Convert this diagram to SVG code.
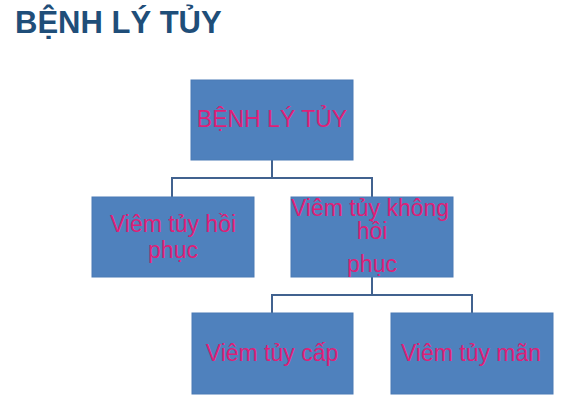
<svg xmlns="http://www.w3.org/2000/svg" width="568" height="406" viewBox="0 0 568 406">
<style>
.box{fill:#4F81BD;stroke:#4A7AB5;stroke-width:1}
.lbl{font-family:"Liberation Sans",Arial,sans-serif;font-size:23px;fill:#DE1F77;text-anchor:middle}
.conn{fill:none;stroke:#41628F;stroke-width:2}
.title{font-family:"Liberation Sans",Arial,sans-serif;font-size:31px;font-weight:bold;fill:#1F4E79}
</style>
<rect width="568" height="406" fill="#FFFFFF"/>
<text class="title" x="15" y="33">BỆNH LÝ TỦY</text>
<g id="connectors">
<path class="conn" d="M272 160 V178 M172 178 H372 M172 177 V197 M372 177 V197"/>
<path class="conn" d="M372 277 V295 M272 295 H472 M272 294 V313 M472 294 V313"/>
</g>
<g id="node-root">
<rect class="box" x="191" y="80" width="162" height="80"/>
<text class="lbl" x="272" y="127">BỆNH LÝ TỦY</text>
</g>
<g id="node-reversible">
<rect class="box" x="92" y="197" width="162" height="80"/>
<text class="lbl" x="173" y="232">Viêm tủy hồi</text>
<text class="lbl" x="173" y="258">phục</text>
</g>
<g id="node-irreversible">
<rect class="box" x="291" y="197" width="162" height="80"/>
<text class="lbl" x="370" y="216">Viêm tủy không</text>
<text class="lbl" x="372" y="239">hồi</text>
<text class="lbl" x="372" y="272">phục</text>
</g>
<g id="node-acute">
<rect class="box" x="192" y="313" width="161" height="81"/>
<text class="lbl" x="272" y="361">Viêm tủy cấp</text>
</g>
<g id="node-chronic">
<rect class="box" x="391" y="313" width="162" height="81"/>
<text class="lbl" x="471" y="361">Viêm tủy mãn</text>
</g>
</svg>
